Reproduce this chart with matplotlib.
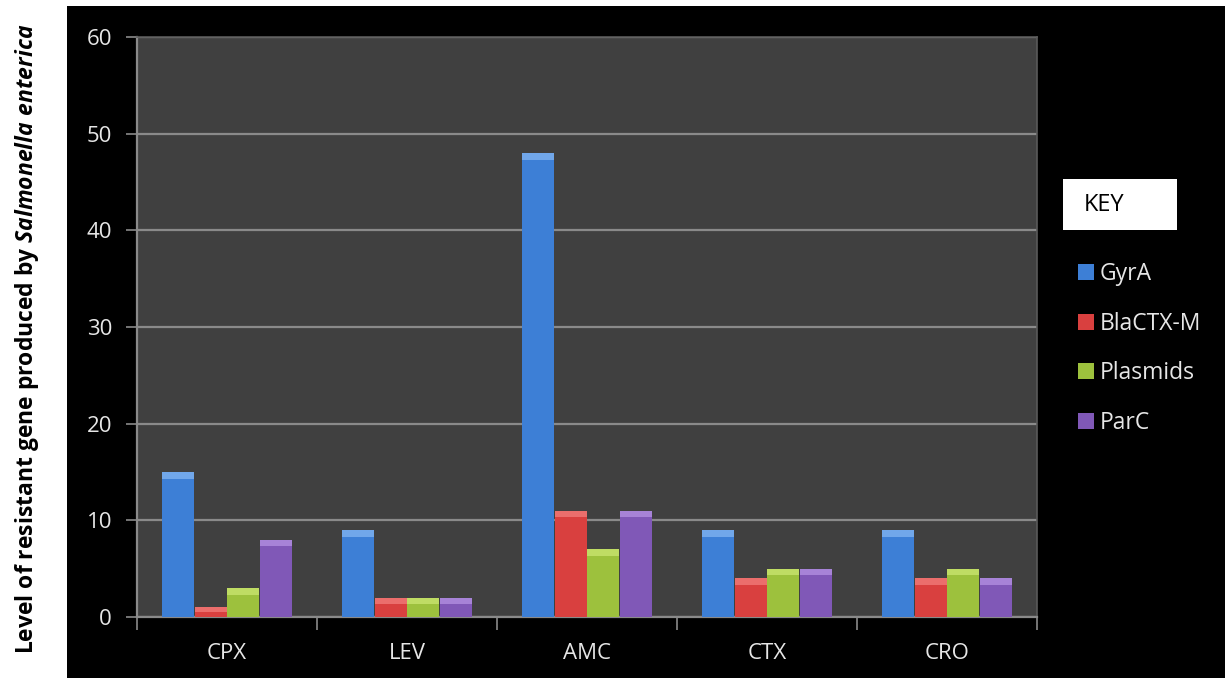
import numpy as np
import matplotlib.pyplot as plt
from matplotlib.patches import Patch, Rectangle

# data
categories = ['CPX', 'LEV', 'AMC', 'CTX', 'CRO']
gyra = [15, 9, 48, 9, 9]
blactx = [1, 2, 11, 4, 4]
plasmids = [3, 2, 7, 5, 5]
parc = [8, 2, 11, 5, 4]
series_names = ['GyrA', 'BlaCTX-M', 'Plasmids', 'ParC']
yticks = [0, 10, 20, 30, 40, 50, 60]

couleurs = ['#3d7fd6', '#d9403f', '#9dc13d', '#8058b7']
couleurs_haut = ['#7fb2f0', '#f07a78', '#c8e46e', '#b18fe0']

plt.rcParams['font.family'] = ['Open Sans', 'DejaVu Sans']
plt.rcParams['mathtext.fontset'] = 'custom'
plt.rcParams['mathtext.rm'] = 'Open Sans:bold'
plt.rcParams['mathtext.it'] = 'Open Sans:italic:bold'

fig = plt.figure(figsize=(12.25, 6.78), dpi=100)
fig.patch.set_facecolor('white')

# black panel behind the chart
fig.patches.append(Rectangle((67 / 1225, 0), 1 - 67 / 1225, 672 / 678,
                             transform=fig.transFigure, facecolor='black',
                             edgecolor='none', zorder=-10))

ax = fig.add_axes([137 / 1225, 61 / 678, 900 / 1225, 580 / 678])
ax.set_facecolor('#404040')

x = np.arange(len(categories))
largeur = 0.183
series = [gyra, blactx, plasmids, parc]
for i, (vals, nom) in enumerate(zip(series, series_names)):
    pos = x + (i - 1.5) * largeur
    vals = np.array(vals, dtype=float)
    ax.bar(pos, vals, width=largeur * 0.97, color=couleurs[i],
           edgecolor='none', zorder=3, label=nom)
    # lighter bevel on top of each bar
    haut = np.minimum(0.7, vals * 0.5)
    ax.bar(pos, haut, bottom=vals - haut, width=largeur * 0.97,
           color=couleurs_haut[i], edgecolor='none', zorder=4, alpha=0.8)

ax.set_xlim(-0.5, len(categories) - 0.5)
ax.set_ylim(0, 60)
ax.set_yticks(yticks)
ax.yaxis.grid(True, color='#8a8a8a', linewidth=1.6, zorder=1)
ax.set_axisbelow(True)

ax.set_xticks(x)
ax.set_xticklabels(categories)
ax.set_xticks(np.arange(-0.5, len(categories)), minor=True)
ax.tick_params(axis='x', which='major', length=0, pad=19,
               labelsize=16, labelcolor='#e6e6e6')
ax.tick_params(axis='x', which='minor', length=9, width=1.2, color='#8a8a8a')
ax.tick_params(axis='y', length=8, width=1.2, color='#8a8a8a',
               labelsize=16, labelcolor='#e6e6e6', pad=10)

for cote in ['left', 'bottom']:
    ax.spines[cote].set_color('#8a8a8a')
    ax.spines[cote].set_linewidth(1.6)
for cote in ['top', 'right']:
    ax.spines[cote].set_color('#5a5a5a')
    ax.spines[cote].set_linewidth(1.2)

# y label on the white strip
fig.text(27 / 1225, 0.5,
         r'Level of resistant gene produced by $\mathit{Salmonella\ enterica}$',
         rotation=90, ha='center', va='center', fontsize=16.5,
         fontweight='bold', color='black')

# KEY box
fig.patches.append(Rectangle((1063 / 1225, 1 - 230 / 678), 114 / 1225, 51 / 678,
                             transform=fig.transFigure, facecolor='white',
                             edgecolor='none', zorder=2))
fig.text(1084 / 1225, 1 - 205 / 678, 'KEY', ha='left', va='center',
         fontsize=17, color='black', zorder=3)

poignees = [Patch(facecolor=c, edgecolor='none') for c in couleurs]
leg = fig.legend(poignees, series_names, loc='upper left',
                 bbox_to_anchor=(1078 / 1225, 1 - 262 / 678),
                 frameon=False, fontsize=16.5, labelcolor='#e6e6e6',
                 handlelength=0.7, handleheight=0.7, handletextpad=0.25,
                 labelspacing=1.12, borderaxespad=0, borderpad=0)

fig.savefig('out.png', dpi=100, facecolor=fig.get_facecolor())
